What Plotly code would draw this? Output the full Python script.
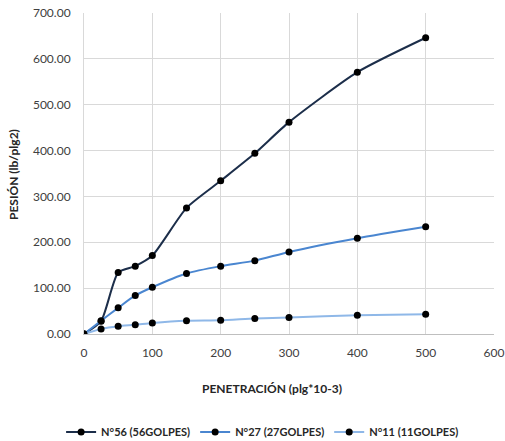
import plotly.graph_objects as go

# Penetración (plg*10-3)
penetracion = [0, 25, 50, 75, 100, 150, 200, 250, 300, 400, 500]

# Presión (lb/plg2) por número de golpes
n56 = [0.0, 28.0, 134.0, 148.0, 171.0, 275.0, 334.0, 394.0, 462.0, 571.0, 646.0]
n27 = [0.0, 29.0, 57.0, 84.0, 102.0, 132.0, 148.0, 160.0, 179.0, 209.0, 234.0]
n11 = [0.0, 11.0, 17.0, 20.0, 24.0, 29.0, 30.0, 34.0, 36.0, 41.0, 43.0]

series_names = ["N°56 (56GOLPES)", "N°27 (27GOLPES)", "N°11 (11GOLPES)"]
series_values = [n56, n27, n11]
series_colors = ["#1c2e4a", "#4a86d0", "#8fb8e8"]

FONT = "Lato, Carlito, Calibri, sans-serif"

fig = go.Figure()
for name, vals, color in zip(series_names, series_values, series_colors):
    fig.add_trace(go.Scatter(
        x=penetracion, y=vals, name=name,
        mode="lines+markers",
        line=dict(color=color, width=2, shape="spline", smoothing=0.6),
        marker=dict(color="black", size=7),
    ))

fig.update_layout(
    width=505, height=441,
    margin=dict(l=84, r=11, t=13, b=107, autoexpand=False),
    paper_bgcolor="white", plot_bgcolor="white",
    font=dict(family=FONT, size=12, color="#404040"),
    showlegend=True,
    legend=dict(
        orientation="h", xref="container", yref="container",
        x=0.52, xanchor="center", y=1 - 432 / 441, yanchor="middle",
        font=dict(family=FONT, size=11, color="#262626", weight="bold"),
        itemwidth=30, tracegroupgap=0,
    ),
    xaxis=dict(
        range=[0, 600], tickvals=[0, 100, 200, 300, 400, 500, 600],
        showgrid=True, gridcolor="#d9d9d9", gridwidth=1,
        zeroline=False, showline=True, linecolor="#bfbfbf",
        ticks="", ticklabelstandoff=8,
        tickfont=dict(family=FONT, size=12, color="#404040"),
    ),
    yaxis=dict(
        range=[0, 700], tickvals=[0, 100, 200, 300, 400, 500, 600, 700],
        tickformat=".2f",
        showgrid=True, gridcolor="#d9d9d9", gridwidth=1,
        zeroline=False, showline=True, linecolor="#d9d9d9",
        ticks="", ticklabelstandoff=10,
        tickfont=dict(family=FONT, size=12, color="#404040"),
    ),
    annotations=[
        dict(text="PENETRACIÓN (plg*10-3)", xref="paper", yref="paper",
             x=(272 - 84) / 410, y=-(389 - 334) / 321, xanchor="center", yanchor="middle",
             showarrow=False, font=dict(family=FONT, size=12, color="#262626", weight="bold")),
        dict(text="PESIÓN (lb/plg2)", xref="paper", yref="paper",
             x=-(84 - 13) / 410, y=(334 - 175) / 321, xanchor="center", yanchor="middle",
             textangle=-90, showarrow=False,
             font=dict(family=FONT, size=12, color="#262626", weight="bold")),
    ],
)

fig.write_html("out.html")
